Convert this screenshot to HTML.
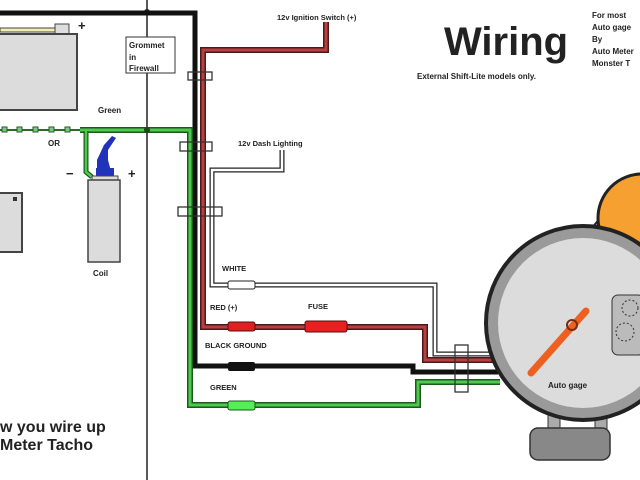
<!DOCTYPE html>
<html><head><style>
html,body{margin:0;padding:0;background:#fff;width:640px;height:480px;overflow:hidden}
svg text{font-family:"Liberation Sans",sans-serif;font-weight:bold;fill:#222}
</style></head><body>
<svg width="640" height="480" viewBox="0 0 640 480" xmlns="http://www.w3.org/2000/svg">
<rect width="640" height="480" fill="#fff"/>
<line x1="147" y1="0" x2="147" y2="480" stroke="#222" stroke-width="1.5"/>
<circle cx="147" cy="12" r="3" fill="#222"/>
<rect x="126" y="37" width="49" height="36" fill="#fff" stroke="#333"/>
<text x="129" y="48" font-size="8">Grommet</text>
<text x="129" y="60" font-size="8">in</text>
<text x="129" y="71" font-size="8">Firewall</text>
<rect x="0" y="28" width="55" height="4" fill="#f3efb0" stroke="#444" stroke-width="1"/>
<rect x="55" y="24" width="14" height="10" fill="#ddd" stroke="#444"/>
<rect x="-2" y="34" width="79" height="76" fill="#dcdcdc" stroke="#444" stroke-width="2"/>
<text x="78" y="30" font-size="13">+</text>
<polyline points="0,13 195,13 195,366 413,366 413,372 498,372" fill="none" stroke="#111" stroke-width="5"/>
<polyline points="326,22 326,50 203,50 203,327 425,327 425,360 498,360" fill="none" stroke="#4a1a1a" stroke-width="6"/>
<polyline points="326,22 326,50 203,50 203,327 425,327 425,360 498,360" fill="none" stroke="#b84040" stroke-width="3"/>
<polyline points="282,150 282,170 212,170 212,285 435,285 435,354 498,354" fill="none" stroke="#222" stroke-width="5"/>
<polyline points="282,150 282,170 212,170 212,285 435,285 435,354 498,354" fill="none" stroke="#fff" stroke-width="2.5"/>
<polyline points="80,130 190,130 190,405 418,405 418,382 500,382" fill="none" stroke="#1a5a1a" stroke-width="6"/>
<polyline points="80,130 190,130 190,405 418,405 418,382 500,382" fill="none" stroke="#4ec84e" stroke-width="3"/>
<polyline points="86,131 86,172 92,177" fill="none" stroke="#1a5a1a" stroke-width="5"/>
<polyline points="86,131 86,172 92,177" fill="none" stroke="#4ec84e" stroke-width="2.5"/>
<line x1="0" y1="130" x2="80" y2="130" stroke="#2a6a2a" stroke-width="2"/>
<g fill="#7ec87e" stroke="#2a5a2a" stroke-width="1">
<rect x="2" y="127" width="5" height="5"/><rect x="17" y="127" width="5" height="5"/><rect x="33" y="127" width="5" height="5"/><rect x="49" y="127" width="5" height="5"/><rect x="65" y="127" width="5" height="5"/></g>
<circle cx="147" cy="130" r="3" fill="#1a4a1a"/>
<text x="98" y="113" font-size="8">Green</text>
<text x="48" y="146" font-size="8">OR</text>
<path d="M97,175 L97,160 L104,145 L112,136 L116,138 L108,150 L108,160 L112,175 Z" fill="#2233bb"/>
<rect x="96" y="168" width="18" height="8" fill="#2233bb"/>
<rect x="92" y="176" width="26" height="4" fill="#ddd" stroke="#444"/>
<rect x="88" y="180" width="32" height="82" fill="#dcdcdc" stroke="#444" stroke-width="1.5"/>
<text x="66" y="178" font-size="13">−</text>
<text x="128" y="178" font-size="13">+</text>
<text x="93" y="276" font-size="8">Coil</text>
<rect x="-2" y="193" width="24" height="59" fill="#dcdcdc" stroke="#444" stroke-width="2"/>
<rect x="13" y="197" width="4" height="4" fill="#333"/>
<g fill="none" stroke="#333" stroke-width="1.3">
<rect x="188" y="72" width="24" height="8"/>
<rect x="180" y="142" width="32" height="9"/>
<rect x="178" y="207" width="44" height="9"/>
<rect x="455" y="345" width="13" height="47"/>
</g>
<rect x="228" y="281" width="27" height="8" rx="2" fill="#fff" stroke="#222"/>
<rect x="228" y="322" width="27" height="9" rx="2" fill="#e02020" stroke="#511"/>
<rect x="305" y="321" width="42" height="11" rx="2" fill="#e82020" stroke="#511"/>
<rect x="228" y="362" width="27" height="9" rx="2" fill="#111"/>
<rect x="228" y="401" width="27" height="9" rx="2" fill="#55ee55" stroke="#1a5a1a"/>
<text x="277" y="20" font-size="7.5">12v Ignition Switch (+)</text>
<text x="238" y="146" font-size="7.5">12v Dash Lighting</text>
<text x="222" y="271" font-size="7.5">WHITE</text>
<text x="210" y="310" font-size="7.5">RED (+)</text>
<text x="308" y="309" font-size="7.5">FUSE</text>
<text x="205" y="348" font-size="7.5">BLACK GROUND</text>
<text x="210" y="390" font-size="7.5">GREEN</text>
<text x="444" y="55" font-size="40">Wiring</text>
<text x="417" y="79" font-size="8">External Shift-Lite models only.</text>
<text x="592" y="18" font-size="8">For most</text>
<text x="592" y="30" font-size="8">Auto gage</text>
<text x="592" y="42" font-size="8">By</text>
<text x="592" y="54" font-size="8">Auto Meter</text>
<text x="592" y="66" font-size="8">Monster T</text>
<path d="M592,228 L608,208 L640,222 L640,250 Z" fill="#999" stroke="#222" stroke-width="2"/>
<circle cx="642" cy="218" r="44" fill="#f5a030" stroke="#222" stroke-width="3"/>
<rect x="548" y="415" width="12" height="18" fill="#aaa" stroke="#333"/>
<rect x="595" y="415" width="12" height="18" fill="#aaa" stroke="#333"/>
<rect x="530" y="428" width="80" height="32" rx="8" fill="#888" stroke="#333" stroke-width="1.5"/>
<circle cx="583" cy="323" r="97" fill="#9a9a9a" stroke="#222" stroke-width="4"/>
<circle cx="583" cy="323" r="85" fill="#dcdcdc"/>
<rect x="612" y="295" width="32" height="60" rx="6" fill="#bbb" stroke="#333"/>
<circle cx="630" cy="308" r="8" fill="none" stroke="#333" stroke-dasharray="2,2"/>
<circle cx="625" cy="332" r="9" fill="none" stroke="#333" stroke-dasharray="2,2"/>
<line x1="531" y1="373" x2="586" y2="311" stroke="#ee6020" stroke-width="7" stroke-linecap="round"/>
<circle cx="572" cy="325" r="5" fill="none" stroke="#7a2a10" stroke-width="2"/>
<text x="548" y="388" font-size="8">Auto gage</text>
<text x="0" y="432" font-size="16">w you wire up</text>
<text x="0" y="450" font-size="16">Meter Tacho</text>
</svg>
</body></html>
